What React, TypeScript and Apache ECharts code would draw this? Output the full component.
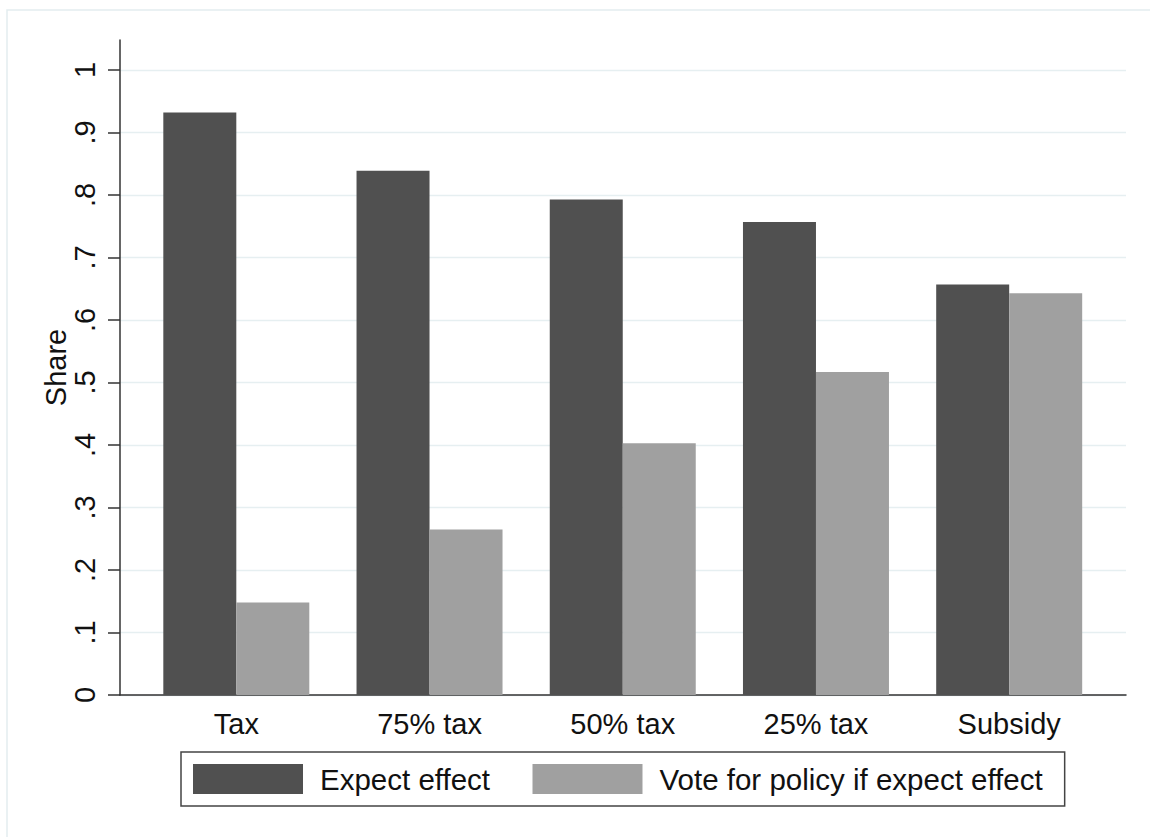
import { useEffect, useRef } from 'react';
import * as echarts from 'echarts';

const categories = ['Tax', '75% tax', '50% tax', '25% tax', 'Subsidy'];
const expectEffect = [0.932, 0.839, 0.793, 0.757, 0.657];
const voteForPolicy = [0.148, 0.265, 0.403, 0.517, 0.643];
const yTickLabels = ['0', '.1', '.2', '.3', '.4', '.5', '.6', '.7', '.8', '.9', '1'];
const seriesNames = ['Expect effect', 'Vote for policy if expect effect'];

export default function App() {
  const ref = useRef<HTMLDivElement>(null);
  useEffect(() => {
    const chart = echarts.init(ref.current!, null, { renderer: 'svg' });
    const font = "'Liberation Sans', Arial, sans-serif";
    const axisColor = '#333333';
    const textColor = '#111111';
    chart.setOption({
      animation: false,
      backgroundColor: '#ffffff',
      textStyle: { fontFamily: font },
      graphic: [
        {
          type: 'rect',
          silent: true,
          z: -10,
          shape: { x: 7, y: 10, width: 1200, height: 900 },
          style: { fill: 'none', stroke: '#e3edef', lineWidth: 1.5 },
        },
      ],
      grid: [
        { left: 120, right: 24, top: 40, bottom: 142 },
        { left: 120, right: 24, top: 70, bottom: 142 },
        { left: 139.7, right: 44.2, top: 70, bottom: 142 },
      ],
      xAxis: [
        {
          gridIndex: 0,
          type: 'value',
          min: 0,
          max: 1,
          axisLine: { show: true, lineStyle: { color: axisColor, width: 1.5 } },
          axisTick: { show: false },
          axisLabel: { show: false },
          splitLine: { show: false },
        },
        { gridIndex: 1, type: 'value', min: 0, max: 1, show: false },
        {
          gridIndex: 2,
          type: 'category',
          data: categories,
          axisLine: { show: false },
          axisTick: { show: false },
          axisLabel: { margin: 14, fontSize: 29, color: textColor, fontFamily: font },
        },
      ],
      yAxis: [
        {
          gridIndex: 0,
          type: 'value',
          min: 0,
          max: 1.048,
          axisLine: { show: true, lineStyle: { color: axisColor, width: 1.5 } },
          axisTick: { show: false },
          axisLabel: { show: false },
          splitLine: { show: false },
          name: 'Share',
          nameLocation: 'middle',
          nameGap: 50,
          nameTextStyle: { fontSize: 29, color: textColor, fontFamily: font },
        },
        {
          gridIndex: 1,
          type: 'value',
          min: 0,
          max: 1,
          interval: 0.1,
          axisLine: { show: false },
          axisTick: { show: true, length: 12, lineStyle: { color: axisColor, width: 1.5 } },
          axisLabel: {
            rotate: 90,
            margin: 21,
            fontSize: 29,
            color: textColor,
            fontFamily: font,
            formatter: (v: number) => yTickLabels[Math.round(v * 10)] ?? '',
          },
          splitLine: { show: true, lineStyle: { color: '#e6eff1', width: 1.3 } },
        },
        { gridIndex: 2, type: 'value', min: 0, max: 1, show: false },
      ],
      legend: {
        left: 181,
        top: 752,
        orient: 'horizontal',
        data: seriesNames,
        icon: 'rect',
        itemWidth: 110,
        itemHeight: 30,
        itemGap: 42.5,
        padding: [12, 22, 12, 12],
        borderColor: '#444444',
        borderWidth: 1.5,
        backgroundColor: '#ffffff',
        selectedMode: false,
        textStyle: { fontSize: 29.5, color: textColor, fontFamily: font, padding: [0, 0, 0, 12] },
      },
      series: [
        {
          name: seriesNames[0],
          type: 'bar',
          xAxisIndex: 2,
          yAxisIndex: 2,
          data: expectEffect,
          barWidth: 73,
          barGap: '0%',
          itemStyle: { color: '#505050' },
        },
        {
          name: seriesNames[1],
          type: 'bar',
          xAxisIndex: 2,
          yAxisIndex: 2,
          data: voteForPolicy,
          barWidth: 73,
          barGap: '0%',
          itemStyle: { color: '#a0a0a0' },
        },
      ],
    });
    return () => chart.dispose();
  }, []);
  return <div ref={ref} style={{ position: 'fixed', left: 0, top: 0, width: 1150, height: 837 }} />;
}
